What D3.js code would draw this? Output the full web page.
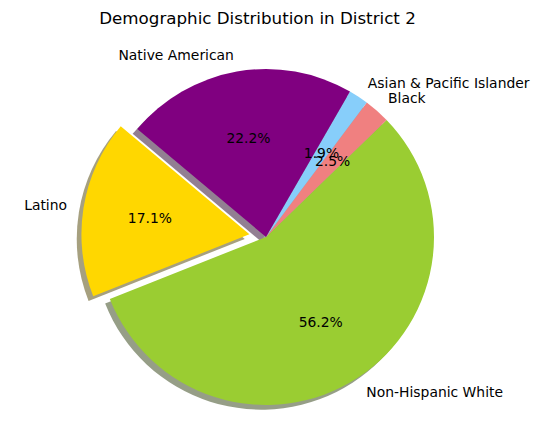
<!DOCTYPE html>
<html><head><meta charset="utf-8">
<script src="https://cdn.jsdelivr.net/npm/d3@7"></script>
<style>body{margin:0;background:#fff}svg{display:block}text{font-family:"DejaVu Sans",sans-serif}</style>
</head><body><svg id="c" width="539" height="432"></svg>
<script>
const title = "Demographic Distribution in District 2";
const categories = ["Latino", "Non-Hispanic White", "Black", "Asian & Pacific Islander", "Native American"];
const values = [17.1, 56.2, 2.5, 1.9, 22.2];
const colors = ["#FFD700", "#9ACD32", "#F08080", "#87CEFA", "#800080"];
const explode = [0.1, 0, 0, 0, 0];

const W = 539, H = 432;
const cx = 266, cy = 237, R = 168;
const startDeg = 140;
const svg = d3.select("#c");

svg.append("text").attr("x", 257.5).attr("y", 18).attr("text-anchor", "middle")
  .attr("dominant-baseline", "central").attr("font-size", "16.7px").attr("fill", "#000").text(title);

const color = d3.scaleOrdinal().domain(categories).range(colors);
const toRad = d => d * Math.PI / 180;
const a0 = toRad(90 - startDeg);
const pie = d3.pie().sort(null).value(d => d.v).startAngle(a0).endAngle(a0 - 2 * Math.PI);
const data = categories.map((c, i) => ({c, v: values[i], e: explode[i]}));
const arcs = pie(data);
const arc = d3.arc().innerRadius(0).outerRadius(R);

const g = svg.append("g").attr("transform", `translate(${cx},${cy})`);
const mid = d => (d.startAngle + d.endAngle) / 2;
const off = d => [Math.sin(mid(d)) * d.data.e * R, -Math.cos(mid(d)) * d.data.e * R];

const sh = 0.02 * 100 / 72 * R;
const shadowCol = c => { const r = d3.rgb(c); return d3.rgb(r.r * 0.3, r.g * 0.3, r.b * 0.3).toString(); };

g.selectAll("path.sh").data(arcs).join("path").attr("class", "sh")
  .attr("d", arc).attr("fill", d => shadowCol(color(d.data.c))).attr("fill-opacity", 0.5)
  .attr("transform", d => { const o = off(d); return `translate(${o[0] - sh},${o[1] + sh})`; });

g.selectAll("path.w").data(arcs).join("path").attr("class", "w")
  .attr("d", arc).attr("fill", d => color(d.data.c))
  .attr("transform", d => { const o = off(d); return `translate(${o[0]},${o[1]})`; });

g.selectAll("text.lab").data(arcs).join("text").attr("class", "lab")
  .attr("x", d => off(d)[0] + Math.sin(mid(d)) * 1.1 * R)
  .attr("y", d => off(d)[1] - Math.cos(mid(d)) * 1.1 * R)
  .attr("text-anchor", d => Math.sin(mid(d)) < 0 ? "end" : "start")
  .attr("dominant-baseline", "central").attr("font-size", "13.9px").attr("fill", "#000")
  .text(d => d.data.c);

g.selectAll("text.pct").data(arcs).join("text").attr("class", "pct")
  .attr("x", d => off(d)[0] + Math.sin(mid(d)) * 0.6 * R)
  .attr("y", d => off(d)[1] - Math.cos(mid(d)) * 0.6 * R)
  .attr("text-anchor", "middle")
  .attr("dominant-baseline", "central").attr("font-size", "13.9px").attr("fill", "#000")
  .text(d => d.data.v.toFixed(1) + "%");
</script></body></html>
